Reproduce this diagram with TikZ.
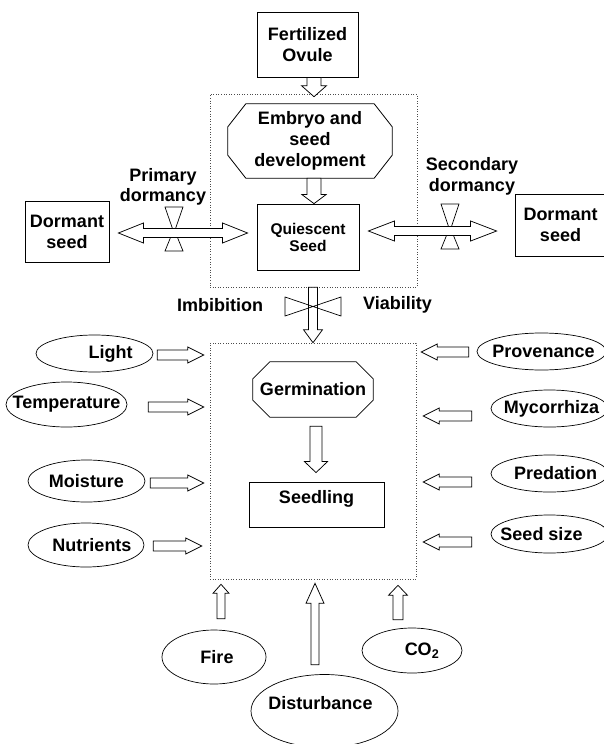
\documentclass[tikz,border=0pt]{standalone}
\usepackage{fontspec}
\setmainfont{Liberation Sans}
\usetikzlibrary{calc,shapes.geometric}

\tikzset{lbl/.style={font=\fontsize{18}{21}\selectfont\bfseries,align=center},
  stage/.style={lbl,draw,line width=0.8pt,inner sep=0pt},
  factor/.style={font=\fontsize{18}{21}\selectfont\bfseries,draw,ellipse,line width=0.7pt,inner sep=0pt},
  zone/.style={draw=black!70,dotted,line width=0.6pt,inner sep=0pt},
  arrowline/.style={draw,fill=white,line width=0.75pt,line join=miter},
  valve/.style={draw,line width=0.7pt}}

% text kept out of the ellipse size, shifted by #1
\newcommand{\tx}[2][0pt]{\makebox[0pt]{\hspace*{#1}\hspace*{#1}#2}}

% octagon round a node: name, corner cut across, corner cut down
\newcommand{\chamfer}[3]{%
  \draw[line width=0.8pt] ($(#1.north west)+(#2,0)$) -- ($(#1.north east)+(-#2,0)$)
    -- ($(#1.north east)+(0,#3)$) -- ($(#1.south east)+(0,-#3)$)
    -- ($(#1.south east)+(-#2,0)$) -- ($(#1.south west)+(#2,0)$)
    -- ($(#1.south west)+(0,-#3)$) -- ($(#1.north west)+(0,#3)$) -- cycle;}

% hollow block arrow: from, to, half shaft, half head, head length
\newcommand{\hollowarrow}[5]{%
  \path (#1) coordinate (ha-s) (#2) coordinate (ha-t);
  \path ($(ha-t)!#5pt!(ha-s)$) coordinate (ha-b);
  \draw[arrowline] ($(ha-s)!#3pt!90:(ha-t)$) -- ($(ha-b)!#3pt!90:(ha-t)$)
    -- ($(ha-b)!#4pt!90:(ha-t)$) -- (ha-t) -- ($(ha-b)!#4pt!-90:(ha-t)$)
    -- ($(ha-b)!#3pt!-90:(ha-t)$) -- ($(ha-s)!#3pt!-90:(ha-t)$) -- cycle;}

% same with a head at both ends
\newcommand{\hollowdouble}[5]{%
  \path (#1) coordinate (hd-s) (#2) coordinate (hd-t);
  \path ($(hd-s)!#5pt!(hd-t)$) coordinate (hd-a) ($(hd-t)!#5pt!(hd-s)$) coordinate (hd-b);
  \draw[arrowline] (hd-s) -- ($(hd-a)!#4pt!90:(hd-t)$) -- ($(hd-a)!#3pt!90:(hd-t)$)
    -- ($(hd-b)!#3pt!90:(hd-t)$) -- ($(hd-b)!#4pt!90:(hd-t)$) -- (hd-t)
    -- ($(hd-b)!#4pt!-90:(hd-t)$) -- ($(hd-b)!#3pt!-90:(hd-t)$)
    -- ($(hd-a)!#3pt!-90:(hd-t)$) -- ($(hd-a)!#4pt!-90:(hd-t)$) -- cycle;}

\begin{document}
\begin{tikzpicture}[x=1pt,y=-1pt]
  \useasboundingbox (0,0) rectangle (604,744);
  \coordinate (mid) at (314,0);

  \node[zone,minimum width=207pt,minimum height=193pt] (upper) at (313.5,190.5) {};
  \node[zone,minimum width=206pt,minimum height=236pt] (lower) at (313,461) {};

  \node[stage,minimum width=101pt,minimum height=65pt] (ovule) at (307.5,44.5) {Fertilized\\Ovule};
  \node[lbl,minimum width=164pt,minimum height=74pt,inner sep=0pt] (embryo) at (310,141) {Embryo and\\seed\\development};
  \chamfer{embryo}{18}{23}
  \node[stage,minimum width=102pt,minimum height=66pt,font=\fontsize{15.5}{17}\selectfont\bfseries]
        (quiescent) at (308,237) {Quiescent\\Seed};
  \node[stage,minimum width=84pt,minimum height=61pt] (dormL) at (67,231.5) {Dormant\\seed};
  \node[stage,minimum width=91pt,minimum height=62pt] (dormR) at (560.5,225) {Dormant\\seed};

  \node[lbl,font=\fontsize{18}{20}\selectfont\bfseries] (primary) at (163,187) {Primary\\dormancy};
  \node[lbl] (secondary) at (472,176) {Secondary\\dormancy};
  \node[lbl] (imbibition) at (220,305) {Imbibition};
  \node[lbl] (viability) at (397.5,305) {Viability};

  \node[lbl,minimum width=120pt,minimum height=55pt,inner sep=0pt] (germ) at (313,389.5) {Germination};
  \chamfer{germ}{17}{17}
  \node[stage,minimum width=135pt,minimum height=45pt] (seedling) at (316.5,504.5)
        {\raisebox{6pt}[\height][\depth]{Seedling}};

  \node[factor,minimum width=117pt,minimum height=37pt] (light) at (94.5,353.5) {\tx[16pt]{Light}};
  \node[factor,minimum width=121pt,minimum height=45pt] (temp) at (66.5,404.5) {\tx{Temperature}};
  \node[factor,minimum width=117pt,minimum height=42pt] (moisture) at (86.5,481) {\tx{Moisture}};
  \node[factor,minimum width=116pt,minimum height=44pt] (nutrients) at (86,545) {\tx[6pt]{Nutrients}};
  \node[factor,minimum width=129pt,minimum height=37pt] (prov) at (541.5,351.5) {\tx[2pt]{Provenance}};
  \node[factor,minimum width=117pt,minimum height=37pt] (myco) at (549.5,408.5) {\tx[2pt]{Mycorrhiza}};
  \node[factor,minimum width=117pt,minimum height=37pt] (pred) at (549.5,473.5) {\tx[6pt]{Predation}};
  \node[factor,minimum width=117pt,minimum height=38pt] (size) at (549.5,534) {\tx[-8pt]{Seed size}};
  \node[factor,minimum width=104pt,minimum height=54pt] (fire) at (214,657) {\tx[3pt]{Fire}};
  \node[factor,minimum width=100pt,minimum height=45pt] (co2) at (412,650.5) {\tx[10pt]{CO\textsubscript{2}}};
  \node[factor,minimum width=147pt,minimum height=73pt] (dist) at (324.5,711) {\raisebox{17pt}{\tx[-4pt]{Disturbance}}};

  % valves behind the dormancy arrows
  \coordinate (v1) at (174,233);
  \coordinate (v2) at (450,231);
  \draw[valve] (v1) -- ++(-9,-26) -- ++(18,0) -- cycle;
  \draw[valve] (v1) ++(0,-4) -- ++(-9,22) -- ++(18,0) -- cycle;
  \draw[valve] (v2) -- ++(-9,-27) -- ++(18,0) -- cycle;
  \draw[valve] (v2) ++(0,-4) -- ++(-9,22) -- ++(18,0) -- cycle;

  \hollowarrow{ovule.south -| mid}{$(upper.north -| mid)+(0,3)$}{7}{12.5}{11}
  \hollowarrow{embryo.south -| mid}{quiescent.north -| mid}{7}{12}{9}
  \hollowarrow{$(upper.south -| mid)+(-1,0)$}{$(lower.north -| mid)+(-1,0)$}{4.5}{9.5}{13}
  \hollowarrow{$(germ.south -| mid)+(2,9)$}{$(seedling.north -| mid)+(2,-9)$}{6}{11.5}{11}

  \hollowdouble{$(dormL.east)+(9,1.5)$}{$(quiescent.west)+(-9,-4)$}{4.5}{10}{25}
  \hollowdouble{$(quiescent.east)+(9,-6)$}{$(dormR.west)+(-18,6)$}{4.5}{10}{26}

  \coordinate (v3) at (313,306.5);
  \draw[valve] (v3) -- ++(-28,-9.5) -- ++(0,19) -- cycle;
  \draw[valve] (v3) -- ++(28,-9.5) -- ++(0,19) -- cycle;

  \hollowarrow{$(light.east)+(4,1.5)$}{$(light.east -| lower.west)+(-6,1.5)$}{5}{8}{16}
  \hollowarrow{$(temp.east)+(21,2.5)$}{$(temp.east -| lower.west)+(-6,2.5)$}{5}{8}{16}
  \hollowarrow{$(moisture.east)+(5,2)$}{$(moisture.east -| lower.west)+(-6,2)$}{5}{8}{16}
  \hollowarrow{$(nutrients.east)+(9,1)$}{$(nutrients.east -| lower.west)+(-8,1)$}{5}{8}{16}

  \hollowarrow{$(prov.west)+(-8,0.5)$}{$(prov.west -| lower.east)+(5,0.5)$}{5}{8}{16}
  \hollowarrow{$(myco.west)+(-19,7.5)$}{$(myco.west -| lower.east)+(7,7.5)$}{5}{8}{16}
  \hollowarrow{$(pred.west)+(-19,8.5)$}{$(pred.west -| lower.east)+(7,8.5)$}{5}{8}{16}
  \hollowarrow{$(size.west)+(-19,8)$}{$(size.west -| lower.east)+(7,8)$}{5}{8}{16}

  \hollowarrow{$(fire.north)+(7,-11)$}{$(fire.north |- lower.south)+(7,5)$}{4}{8}{9}
  \hollowarrow{$(dist.north)+(-9.5,-9.5)$}{$(dist.north |- lower.south)+(-9.5,4)$}{4}{9}{20}
  \hollowarrow{$(co2.north)+(-14,-8)$}{$(co2.north |- lower.south)+(-14,6)$}{5}{9.5}{10}
\end{tikzpicture}
\end{document}
